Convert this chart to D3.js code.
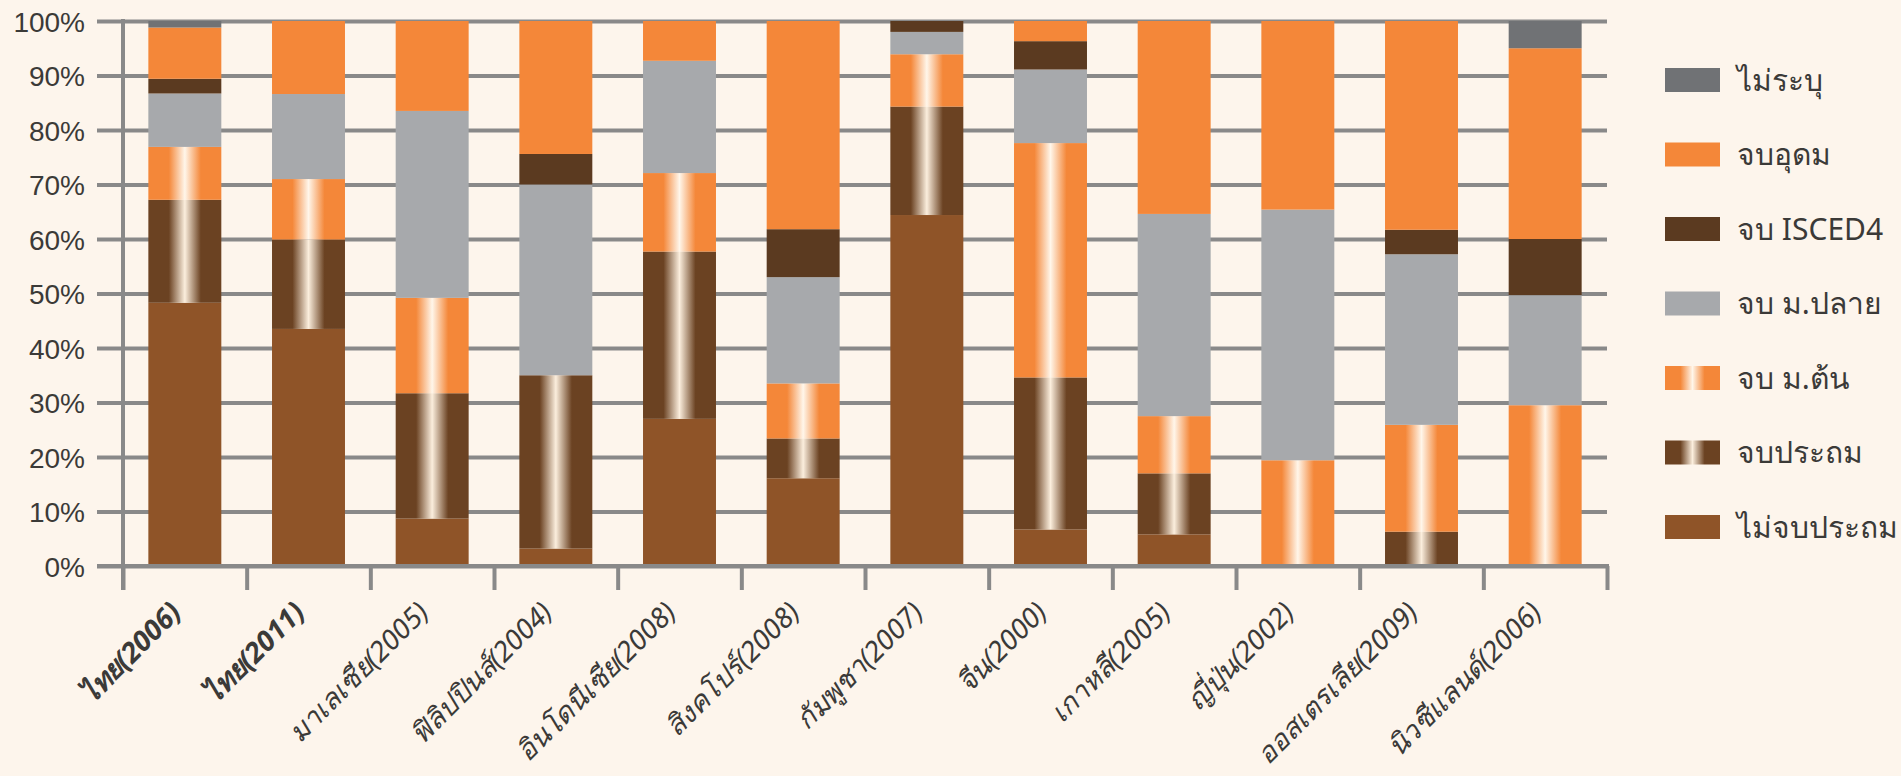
<!DOCTYPE html>
<html>
<head>
<meta charset="utf-8">
<script src="https://cdn.jsdelivr.net/npm/d3@7"></script>
<style>
    body { margin: 0; background: #fdf5ec; }
    svg { display: block; font-family: "Noto Sans", sans-serif; }
    .ylab { font-size: 28px; fill: #3b3a38; }
    .xlab { font-size: 28px; fill: #3b3a38; font-style: italic; }
    .leg { font-size: 30px; fill: #3b3a38; }
</style>
</head>
<body>
<svg id="chart" width="1901" height="776"></svg>
<script>
// categories (country + survey year)
var categories = ["ไทย(2006)", "ไทย(2011)", "มาเลเซีย(2005)", "ฟิลิปปินส์(2004)",
                  "อินโดนีเซีย(2008)", "สิงคโปร์(2008)", "กัมพูชา(2007)", "จีน(2000)",
                  "เกาหลี(2005)", "ญี่ปุ่น(2002)", "ออสเตรเลีย(2009)", "นิวซีแลนด์(2006)"];

// share of each education level, percent
var noPrimary    = [48.3, 43.5,  8.7,  3.2, 27.0, 16.1, 64.4,  6.7,  5.8,  0.0,  0.0,  0.0];
var primary      = [18.9, 16.4, 23.0, 31.8, 30.7,  7.3, 19.9, 27.9, 11.2,  0.0,  6.3,  0.0];
var lowerSec     = [ 9.7, 11.1, 17.5,  0.0, 14.4, 10.1,  9.6, 43.0, 10.5, 19.4, 19.6, 29.5];
var upperSec     = [ 9.8, 15.6, 34.3, 35.0, 20.6, 19.5,  4.1, 13.5, 37.1, 46.0, 31.3, 20.2];
var isced4       = [ 2.7,  0.0,  0.0,  5.6,  0.0,  8.8,  2.0,  5.2,  0.0,  0.0,  4.5, 10.3];
var tertiary     = [ 9.4, 13.4, 16.5, 24.4,  7.3, 38.2,  0.0,  3.7, 35.4, 34.6, 38.3, 35.0];
var notSpecified = [ 1.2,  0.0,  0.0,  0.0,  0.0,  0.0,  0.0,  0.0,  0.0,  0.0,  0.0,  5.0];

// series names, bottom to top
var seriesNames = ["ไม่จบประถม", "จบประถม", "จบ ม.ต้น", "จบ ม.ปลาย", "จบ ISCED4", "จบอุดม", "ไม่ระบุ"];
var seriesValues = [noPrimary, primary, lowerSec, upperSec, isced4, tertiary, notSpecified];

var yTicks = [0, 10, 20, 30, 40, 50, 60, 70, 80, 90, 100];
var boldLabels = ["ไทย(2006)", "ไทย(2011)"];

// colours, gradient ones get a light stripe down the middle
var fills = {
    "ไม่จบประถม": "#8f5428",
    "จบประถม": "url(#gradPrimary)",
    "จบ ม.ต้น": "url(#gradLower)",
    "จบ ม.ปลาย": "#a7a9ac",
    "จบ ISCED4": "#5b3a20",
    "จบอุดม": "#f48739",
    "ไม่ระบุ": "#707275"
};

var svg = d3.select("#chart");

// gradients
var defs = svg.append("defs");
function makeGradient(id, base, light)
{
    var g = defs.append("linearGradient")
        .attr("id", id)
        .attr("x1", "0").attr("x2", "1")
        .attr("y1", "0").attr("y2", "0");
    [[0, base], [0.28, base], [0.5, light], [0.72, base], [1, base]].forEach(s => {
        g.append("stop").attr("offset", s[0]).attr("stop-color", s[1]);
    });
}
makeGradient("gradPrimary", "#6b4222", "#fbeedd");
makeGradient("gradLower", "#f48739", "#fff6ea");

// build table for d3.stack
var table = categories.map((c, i) => {
    var row = {cat: c};
    seriesNames.forEach((s, j) => { row[s] = seriesValues[j][i]; });
    return row;
});
var stacked = d3.stack().keys(seriesNames)(table);

// scales
var LEFT = 123, RIGHT = 1607, TOP = 21, BOTTOM = 566;
var x = d3.scaleBand().domain(categories).range([LEFT, RIGHT])
          .paddingInner(0.41).paddingOuter(0.205);
var xEdge = d3.scaleLinear().domain([0, categories.length]).range([LEFT, RIGHT]);
var y = d3.scaleLinear().domain([0, 100]).range([BOTTOM, TOP]);

// y axis with gridlines
var yAxis = svg.append("g")
    .attr("transform", "translate(97,0)")
    .call(d3.axisLeft(y).tickValues(yTicks).tickFormat(d => d + "%")
            .tickSize(-(RIGHT - 97)).tickPadding(12));
yAxis.select(".domain").remove();
yAxis.selectAll("line").attr("stroke", "#898989").attr("stroke-width", 4);
yAxis.selectAll("text").attr("class", "ylab").attr("font-size", null)
     .attr("font-family", null).attr("fill", null).attr("dy", "0.36em");

// bars
svg.append("g").selectAll("g")
    .data(stacked)
    .enter().append("g")
    .attr("fill", d => fills[d.key])
    .selectAll("rect")
    .data(d => d)
    .enter().append("rect")
    .attr("x", d => x(d.data.cat))
    .attr("width", x.bandwidth())
    .attr("y", d => y(d[1]))
    .attr("height", d => y(d[0]) - y(d[1]));

// x axis: ticks on band edges
var xAxis = svg.append("g")
    .attr("transform", "translate(0," + BOTTOM + ")")
    .call(d3.axisBottom(xEdge).tickValues(d3.range(categories.length + 1))
            .tickFormat("").tickSize(24));
xAxis.select(".domain").remove();
xAxis.selectAll("line").attr("stroke", "#898989").attr("stroke-width", 4);
svg.append("line")
    .attr("x1", 97).attr("x2", RIGHT + 2)
    .attr("y1", BOTTOM).attr("y2", BOTTOM)
    .attr("stroke", "#898989").attr("stroke-width", 4);

// vertical axis line
svg.append("line")
    .attr("x1", LEFT).attr("x2", LEFT)
    .attr("y1", TOP - 2).attr("y2", BOTTOM + 24)
    .attr("stroke", "#898989").attr("stroke-width", 4);

// category labels, rotated
svg.append("g").selectAll("text")
    .data(categories)
    .enter().append("text")
    .attr("class", "xlab")
    .attr("text-anchor", "end")
    .attr("font-weight", d => boldLabels.indexOf(d) >= 0 ? "bold" : "normal")
    .attr("transform", d => "translate(" + (x(d) + x.bandwidth() / 2 - 2) + ",614) rotate(-45)")
    .text(d => d);

// legend, top item is the top of the stack
var legendNames = seriesNames.slice().reverse();
var legend = svg.append("g").selectAll("g")
    .data(legendNames)
    .enter().append("g")
    .attr("transform", (d, i) => "translate(1665," + (68 + i * 74.5) + ")");
legend.append("rect")
    .attr("width", 55).attr("height", 24)
    .attr("fill", d => fills[d]);
legend.append("text")
    .attr("class", "leg")
    .attr("x", 72).attr("y", 12).attr("dy", "0.36em")
    .text(d => d);
</script>
</body>
</html>
